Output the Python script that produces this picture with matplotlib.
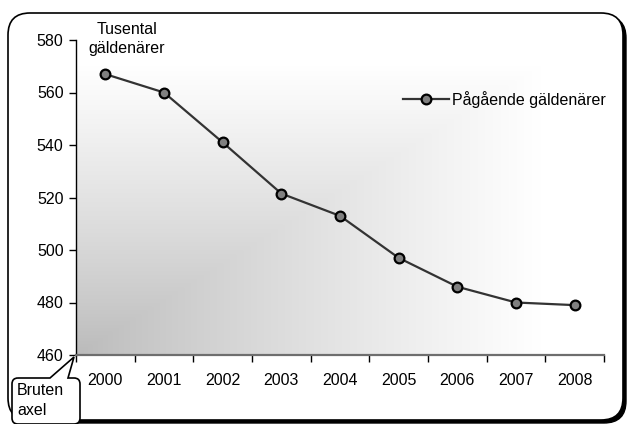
import numpy as np
import matplotlib
matplotlib.use("Agg")
import matplotlib.pyplot as plt
from matplotlib.path import Path
from matplotlib.patches import PathPatch, FancyBboxPatch
from matplotlib.transforms import Affine2D

plt.rcParams['font.family'] = ['Liberation Sans', 'DejaVu Sans']

years = ["2000", "2001", "2002", "2003", "2004", "2005", "2006", "2007", "2008"]
debtors = [567, 560, 541, 521.5, 513, 497, 486, 480, 479]
y_ticks = [460, 480, 500, 520, 540, 560, 580]
series_name = "Pågående gäldenärer"
unit_label = "Tusental\ngäldenärer"
break_label = "Bruten\naxel"

FS = 11.5
W, H = 629, 424
fig = plt.figure(figsize=(W / 100, H / 100), dpi=100)
fig.patch.set_facecolor("white")

# pixel coordinates (origin top-left) -> figure
px = Affine2D().scale(1 / W, -1 / H).translate(0, 1) + fig.transFigure

# outer rounded frame with drop shadow
shadow = FancyBboxPatch((11, 16), 615, 407, boxstyle="round,pad=0,rounding_size=22",
                        transform=px, facecolor="black", edgecolor="black", lw=1, zorder=-2)
frame = FancyBboxPatch((8, 13), 615, 407, boxstyle="round,pad=0,rounding_size=22",
                       transform=px, facecolor="white", edgecolor="black", lw=1.2, zorder=-1)
fig.patches.extend([shadow, frame])

L, R, T, B = 76, 604, 40, 355
ax = fig.add_axes([L / W, (H - B) / H, (R - L) / W, (B - T) / H])
ax.set_facecolor("none")

x = np.arange(len(years))
ax.set_xlim(-0.5, len(years) - 0.5)
ax.set_ylim(y_ticks[0], y_ticks[-1])

# corner gradient: grey at lower left fading to white
nx, ny = 400, 240
u = np.linspace(0, 1, nx)[None, :]
v = np.linspace(0, 1, ny)[:, None]
t = np.clip(np.maximum(u / 0.88, v / 0.92), 0, 1)
g = (186 + (255 - 186) * t ** 0.85) / 255
img = np.dstack([g, g, g])
ax.imshow(img, extent=[-0.5, len(years) - 0.5, y_ticks[0], y_ticks[-1]],
          origin="lower", aspect="auto", zorder=0, interpolation="bilinear")

line, = ax.plot(x, debtors, color="#333333", lw=1.6, marker="o", markersize=7,
                markerfacecolor="#808080", markeredgecolor="black", markeredgewidth=1.6,
                zorder=3)

# axes styling
for s in ["top", "right"]:
    ax.spines[s].set_visible(False)
ax.spines["left"].set_color("black")
ax.spines["left"].set_linewidth(1.0)
ax.spines["bottom"].set_color("#6e6e6e")
ax.spines["bottom"].set_linewidth(1.6)

ax.set_yticks(y_ticks)
ax.set_yticklabels([str(v) for v in y_ticks], fontsize=FS)
ax.tick_params(axis="y", direction="out", length=5, width=1, color="black", pad=4)

ax.set_xticks(x)
ax.set_xticklabels(years, fontsize=FS)
ax.set_xticks(np.arange(-0.5, len(years)), minor=True)
ax.tick_params(axis="x", which="major", length=0, pad=13)
ax.tick_params(axis="x", which="minor", direction="out", length=5, width=1, color="black")

# unit label above the first point
fig.text(127 / W, 1 - 22 / H, unit_label, ha="center", va="top", fontsize=FS,
         linespacing=1.35)

# legend
ax.legend([line], [series_name], loc="upper left",
          bbox_to_anchor=((403 - L) / (R - L), (B - 91) / (B - T)),
          frameon=False, fontsize=FS, handlelength=2.9, handletextpad=0.15, borderpad=0,
          borderaxespad=0)

# callout marking the broken axis
r = 6
x0, x1, y0, y1 = 12, 80, 378, 424
verts = [
    (x0 + r, y0), (50, y0), (74, 357), (68, y0), (x1 - r, y0),
    (x1, y0), (x1, y0 + r),
    (x1, y1 - r), (x1, y1), (x1 - r, y1),
    (x0 + r, y1), (x0, y1), (x0, y1 - r),
    (x0, y0 + r), (x0, y0), (x0 + r, y0),
]
codes = [Path.MOVETO, Path.LINETO, Path.LINETO, Path.LINETO, Path.LINETO,
         Path.CURVE3, Path.CURVE3,
         Path.LINETO, Path.CURVE3, Path.CURVE3,
         Path.LINETO, Path.CURVE3, Path.CURVE3,
         Path.LINETO, Path.CURVE3, Path.CURVE3]
callout = PathPatch(Path(verts, codes), transform=px, facecolor="white",
                    edgecolor="black", lw=1.2, zorder=5)
fig.patches.append(callout)
fig.text(17 / W, 1 - 383 / H, break_label, ha="left", va="top", fontsize=FS,
         linespacing=1.4, zorder=6)

fig.savefig("out.png", dpi=100)
